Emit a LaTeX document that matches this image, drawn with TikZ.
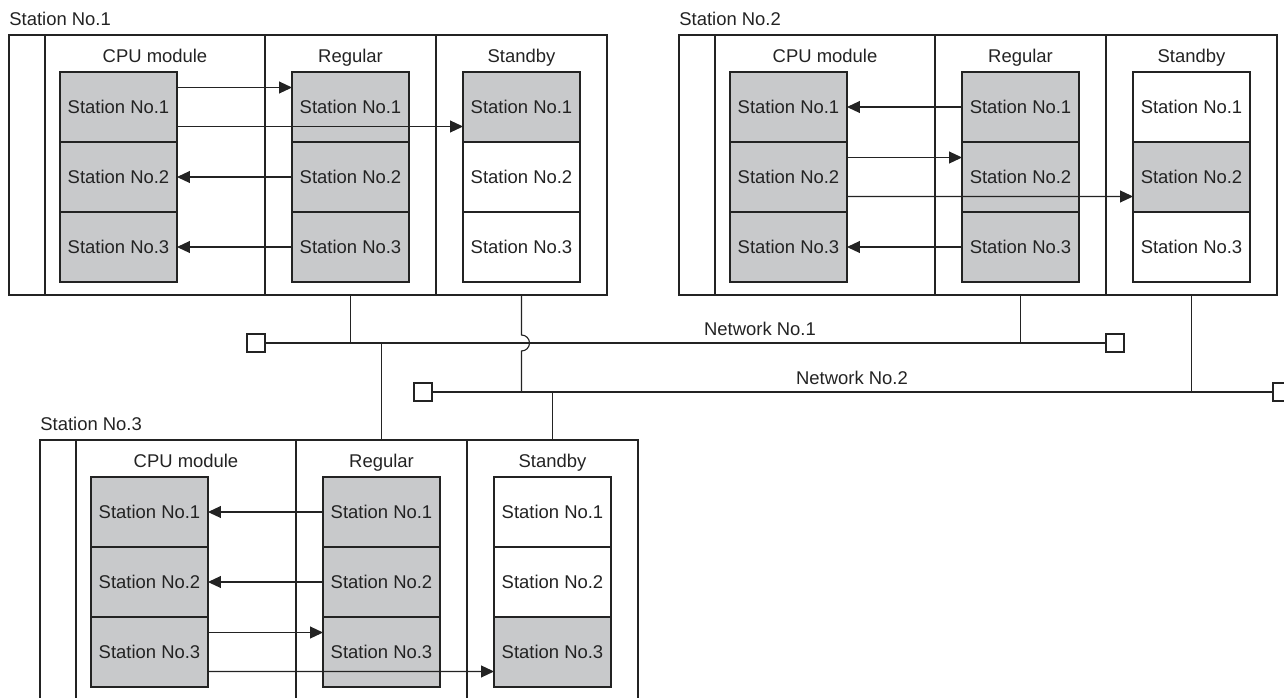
\documentclass[tikz,border=0pt]{standalone}
\usepackage{fontspec}
\setmainfont{Liberation Sans}
\usepackage{tikz}
\usetikzlibrary{arrows.meta, positioning, calc}
\definecolor{boxgray}{RGB}{200,201,203}
\definecolor{ink}{RGB}{35,35,35}
\tikzset{
  lbl/.style={inner sep=0pt, text=ink, font=\fontsize{10.5}{12}\selectfont},
  stname/.style={lbl, anchor=base west},
  hdr/.style={lbl, anchor=base},
  col/.style={rectangle, draw=ink, line width=0.8pt, minimum height=5.2cm,
              inner sep=0pt, outer sep=0pt},
  strip/.style={col, minimum width=0.72cm},
  cpucol/.style={col, minimum width=4.4cm},
  modcol/.style={col, minimum width=3.42cm},
  stbox/.style={rectangle, draw=ink, line width=0.8pt, fill=boxgray,
                minimum width=2.34cm, minimum height=1.4cm,
                inner sep=0pt, outer sep=0pt, text=ink,
                font=\fontsize{10.5}{12}\selectfont},
  freebox/.style={stbox, fill=white},
  arr/.style={-{Triangle[length=0.26cm, width=0.24cm]}, line width=0.6pt, draw=ink},
  wire/.style={line width=0.65pt, draw=ink},
  term/.style={rectangle, draw=ink, fill=white, line width=0.65pt,
               minimum size=0.36cm, inner sep=0pt, outer sep=0pt},
}

\begin{document}
\begin{tikzpicture}[x=0.02cm, y=-0.02cm, node distance=0pt]

  \useasboundingbox (0,0) rectangle (1284,697);

  % Station No.1
  \begin{scope}
    \node[stname] (s1) at (9,25) {Station No.1};
    \node[strip] (s1strip) at (27,165) {};
    \node[cpucol] (s1cpu) at (155,165) {};
    \node[modcol] (s1reg) at (350.5,165) {};
    \node[modcol] (s1stby) at (521.5,165) {};
    \node[hdr] at ([yshift=-0.55cm]s1cpu.north) {CPU module};
    \node[hdr] at ([yshift=-0.55cm]s1reg.north) {Regular};
    \node[hdr] at ([yshift=-0.55cm]s1stby.north) {Standby};
    \foreach \i in {1,2,3} {
      \node[stbox] (s1cpu\i) at (118.5,37+70*\i) {Station No.\i};
      \node[stbox] (s1reg\i) at (350.5,37+70*\i) {Station No.\i};
    }
    \node[stbox] (s1stby1) at (521.5,107) {Station No.1};
    \node[freebox, below=of s1stby1] (s1stby2) {Station No.2};
    \node[freebox, below=of s1stby2] (s1stby3) {Station No.3};

    \draw[arr] ([yshift=0.39cm]s1cpu1.east) -- ([yshift=0.39cm]s1reg1.west);
    \draw[arr] ([yshift=-0.39cm]s1cpu1.east) -- ([yshift=-0.39cm]s1stby1.west);
    \draw[arr] (s1reg2.west) -- (s1cpu2.east);
    \draw[arr] (s1reg3.west) -- (s1cpu3.east);
  \end{scope}

  % Station No.2
  \begin{scope}[shift={(670,0)}]
    \node[stname] (s2) at (9,25) {Station No.2};
    \node[strip] (s2strip) at (27,165) {};
    \node[cpucol] (s2cpu) at (155,165) {};
    \node[modcol] (s2reg) at (350.5,165) {};
    \node[modcol] (s2stby) at (521.5,165) {};
    \node[hdr] at ([yshift=-0.55cm]s2cpu.north) {CPU module};
    \node[hdr] at ([yshift=-0.55cm]s2reg.north) {Regular};
    \node[hdr] at ([yshift=-0.55cm]s2stby.north) {Standby};
    \foreach \i in {1,2,3} {
      \node[stbox] (s2cpu\i) at (118.5,37+70*\i) {Station No.\i};
      \node[stbox] (s2reg\i) at (350.5,37+70*\i) {Station No.\i};
    }
    \node[freebox] (s2stby1) at (521.5,107) {Station No.1};
    \node[stbox, below=of s2stby1] (s2stby2) {Station No.2};
    \node[freebox, below=of s2stby2] (s2stby3) {Station No.3};

    \draw[arr] (s2reg1.west) -- (s2cpu1.east);
    \draw[arr] ([yshift=0.39cm]s2cpu2.east) -- ([yshift=0.39cm]s2reg2.west);
    \draw[arr] ([yshift=-0.39cm]s2cpu2.east) -- ([yshift=-0.39cm]s2stby2.west);
    \draw[arr] (s2reg3.west) -- (s2cpu3.east);
  \end{scope}

  % Station No.3
  \begin{scope}[shift={(31,405)}]
    \node[stname] (s3) at (9,25) {Station No.3};
    \node[strip] (s3strip) at (27,165) {};
    \node[cpucol] (s3cpu) at (155,165) {};
    \node[modcol] (s3reg) at (350.5,165) {};
    \node[modcol] (s3stby) at (521.5,165) {};
    \node[hdr] at ([yshift=-0.55cm]s3cpu.north) {CPU module};
    \node[hdr] at ([yshift=-0.55cm]s3reg.north) {Regular};
    \node[hdr] at ([yshift=-0.55cm]s3stby.north) {Standby};
    \foreach \i in {1,2,3} {
      \node[stbox] (s3cpu\i) at (118.5,37+70*\i) {Station No.\i};
      \node[stbox] (s3reg\i) at (350.5,37+70*\i) {Station No.\i};
    }
    \node[freebox] (s3stby1) at (521.5,107) {Station No.1};
    \node[freebox, below=of s3stby1] (s3stby2) {Station No.2};
    \node[stbox, below=of s3stby2] (s3stby3) {Station No.3};

    \draw[arr] (s3reg1.west) -- (s3cpu1.east);
    \draw[arr] (s3reg2.west) -- (s3cpu2.east);
    \draw[arr] ([yshift=0.39cm]s3cpu3.east) -- ([yshift=0.39cm]s3reg3.west);
    \draw[arr] ([yshift=-0.39cm]s3cpu3.east) -- ([yshift=-0.39cm]s3stby3.west);
  \end{scope}

  % networks
  \node[term] (n1l) at (256,343) {};
  \node[term] (n1r) at (1115,343) {};
  \node[term] (n2l) at (423,392) {};
  \node[term] (n2r) at (1282,392) {};
  \draw[wire] (n1l.east) -- (n1r.west);
  \draw[wire] (n2l.east) -- (n2r.west);
  \node[hdr] (net1) at (760,335) {Network No.1};
  \node[hdr] (net2) at (852,384) {Network No.2};

  \draw[wire] (s1reg.south) -- (s1reg.south |- n1l);
  \draw[wire] (s1stby.south) -- ($(s1stby.south |- n1l)+(0,-8)$)
    arc[start angle=-90, end angle=90, radius=8] -- (s1stby.south |- n2l);
  \draw[wire] (s2reg.south) -- (s2reg.south |- n1l);
  \draw[wire] (s2stby.south) -- (s2stby.south |- n2l);
  \draw[wire] (s3reg.north) -- (s3reg.north |- n1l);
  \draw[wire] (s3stby.north) -- (s3stby.north |- n2l);

\end{tikzpicture}
\end{document}
